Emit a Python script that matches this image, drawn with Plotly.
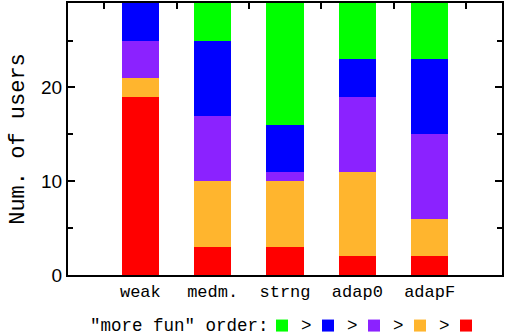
import plotly.graph_objects as go

# Users per condition, split by which variant they ranked as "more fun"
categories = ["weak", "medm.", "strng", "adap0", "adapF"]
red_vals = [19, 3, 3, 2, 2]
orange_vals = [2, 7, 7, 9, 4]
purple_vals = [4, 7, 1, 8, 9]
blue_vals = [4, 8, 5, 4, 8]
green_vals = [0, 4, 13, 6, 6]

y_ticks = [0, 10, 20]
y_max = 29

legend_title = '"more fun" order:'

# stacked from the bottom up; legend lists them in reverse (green first)
series = [
    (red_vals, "#ff0000"),
    (orange_vals, "#ffb52e"),
    (purple_vals, "#8b22ff"),
    (blue_vals, "#0000ff"),
    (green_vals, "#00ff00"),
]

xpos = list(range(len(categories)))
mono = "Liberation Mono, Courier New, monospace"

W, H = 505, 335
ML, MR, MT, MB = 68, 3, 3, 60
plot_w = W - ML - MR
plot_h = H - MT - MB


def paper_x(px):
    return (px - ML) / plot_w


def paper_y(py):
    return (H - MB - py) / plot_h


fig = go.Figure()
for vals, color in series:
    fig.add_trace(go.Bar(
        x=xpos, y=vals, name="", width=0.52,
        marker=dict(color=color, line=dict(width=0)),
        showlegend=True,
    ))

# invisible trace that carries the top axis tick marks between the bars
fig.add_trace(go.Scatter(x=[-1, 5], y=[0, 0], xaxis="x2", mode="none",
                         showlegend=False, hoverinfo="skip"))

# legend caption and the ">" signs between the colour swatches
annotations = [dict(
    text=legend_title, xref="paper", yref="paper",
    x=paper_x(88), y=paper_y(326), xanchor="left", yanchor="middle",
    showarrow=False, font=dict(family=mono, size=17.5, color="black"),
)]
for gx in [306, 352, 398, 444]:
    annotations.append(dict(
        text=">", xref="paper", yref="paper",
        x=paper_x(gx), y=paper_y(326), xanchor="center", yanchor="middle",
        showarrow=False, font=dict(family=mono, size=17.5, color="black"),
    ))

fig.update_layout(
    barmode="stack",
    width=W, height=H,
    margin=dict(l=ML, r=MR, t=MT, b=MB, autoexpand=False),
    plot_bgcolor="white", paper_bgcolor="white",
    bargap=0,
    annotations=annotations,
    xaxis=dict(
        range=[-1, 5], tickvals=xpos, ticktext=categories,
        ticks="", showline=True, linecolor="black", linewidth=2, mirror=True,
        showgrid=False, zeroline=False,
        tickfont=dict(family=mono, size=17, color="black"),
    ),
    xaxis2=dict(
        overlaying="x", side="top", range=[-1, 5],
        tickvals=[-0.5, 0.5, 1.5, 2.5, 3.5, 4.5], showticklabels=False,
        ticks="inside", ticklen=6, tickwidth=2, tickcolor="black",
        showline=False, showgrid=False, zeroline=False,
    ),
    yaxis=dict(
        range=[0, y_max], tickvals=y_ticks,
        ticks="inside", ticklen=7, tickwidth=1.5, tickcolor="black",
        minor=dict(tickvals=[5, 15, 25], ticks="inside", ticklen=5,
                   tickwidth=1.5, tickcolor="black"),
        showline=True, linecolor="black", linewidth=2, mirror="ticks",
        showgrid=False, zeroline=False,
        tickfont=dict(family="Liberation Sans, Arial, sans-serif", size=19, color="black"),
        title=dict(text="Num. of users", font=dict(family=mono, size=22, color="black"),
                   standoff=10),
    ),
    legend=dict(
        orientation="h", xref="container", x=262 / W, xanchor="left",
        yref="container", y=(H - 326) / H, yanchor="middle",
        traceorder="reversed",
        font=dict(family=mono, size=17, color="black"),
        itemwidth=30, entrywidth=1, entrywidthmode="pixels",
    ),
)

fig.write_html("out.html")
